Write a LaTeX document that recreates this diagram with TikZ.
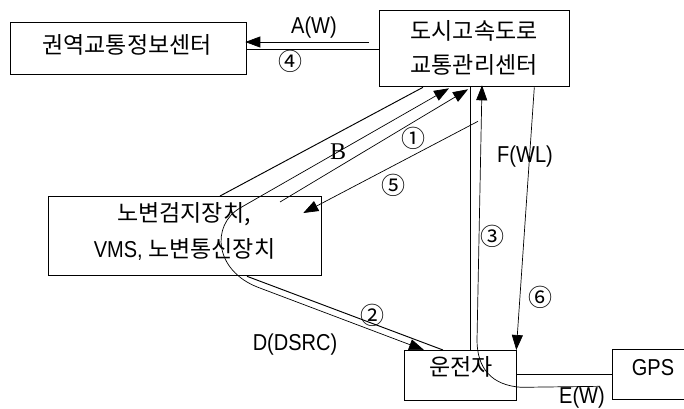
\documentclass[tikz,border=0pt]{standalone}
\usepackage{fontspec}
\setmainfont[FakeStretch=0.87]{Liberation Sans}
\newfontfamily\kr{Noto Sans CJK KR}
\newfontfamily\bser{Liberation Serif}
\usetikzlibrary{arrows.meta,calc}
\begin{document}
\begin{tikzpicture}[x=1pt,y=-1pt,
 tri/.tip={Triangle[length=15pt,width=11pt]},
 box/.style={draw,line width=1.3pt,inner sep=0,anchor=north west},
 kt/.style={font=\kr\fontsize{23}{26}\selectfont, inner sep=0},
 lt/.style={font=\fontsize{23}{26}\selectfont, inner sep=0},
 num/.style={font=\kr\fontsize{24}{26}\selectfont, inner sep=0},
 link/.style={line width=0.95pt},
 flow/.style={line width=0.7pt,-tri},
 flow2/.style={line width=0.7pt,tri-tri},
]
\useasboundingbox[fill=white] (0,0) rectangle (684,408);
% boxes
\node[box,minimum width=236pt,minimum height=52pt] (kw) at (10,22) {};
\node[box,minimum width=190pt,minimum height=76pt] (ds) at (379,10) {};
\node[box,minimum width=273pt,minimum height=79pt] (nb) at (48,196) {};
\node[box,minimum width=112pt,minimum height=50pt] (dr) at (404,350) {};
\node[box,minimum width=90pt,minimum height=50pt] (gps) at (612,349) {};
% box texts
\node[kt] (kwt) at (127,45) {권역교통정보센터};
\node[kt] (ds1) at (474,31) {도시고속도로};
\node[kt] (ds2) at (474,65) {교통관리센터};
\node[kt] (nb1) at (184,214) {노변검지장치,};
\node[lt] (nb2) at (184.5,249) {VMS, {\kr\fontsize{23}{26}\selectfont 노변통신장치}};
\node[kt] (drt) at (461,367) {운전자};
\node[lt] (gpst) at (653,368) {GPS};
% labels
\node[lt] (la) at (314,28) {A(W)};
\node[num] (n4) at (290,61) {④};
\node[font=\bser\fontsize{24}{26}\selectfont, inner sep=0] (lb) at (338,152) {B};
\node[num] (n1) at (413,138) {①};
\node[num] (n5) at (393,185) {⑤};
\node[num] (n3) at (492,236) {③};
\node[lt] (lf) at (525,157) {F(WL)};
\node[num] (n6) at (540,297) {⑥};
\node[num] (n2) at (372,315) {②};
\node[lt] (ld) at (295,345) {D(DSRC)};
\node[lt] (le) at (582,398) {E(W)};
% connectors
\draw[flow] ($(ds.north west)+(-10,32)$) -- ($(kw.north east)+(-2,20)$);
\draw[link] ($(kw.north east)+(0,27)$) -- ($(ds.north west)+(0,39)$);
\draw[link] ($(nb.north west)+(172,0)$) -- ($(ds.south west)+(44,0)$);
\draw[flow2] ($(ds.south west)+(70,1)$) -- ($(nb.north west)+(192,12)$)
   .. controls +(-29,17) and +(-44,-17) .. ($(nb.south west)+(210,11)$)
   -- ($(dr.north west)+(20,0)$);
\draw[flow] ($(nb.north west)+(232,6)$) -- ($(ds.south west)+(89,2)$);
\draw[flow] ($(ds.south west)+(99,34)$) -- ($(nb.north east)+(-19,17)$);
\draw[link] ($(ds.south west)+(91,0)$) -- ($(dr.north west)+(66,0)$);
\draw[flow] ($(gps.south west)+(-12,-14)$) -- ($(dr.south east)+(4,-14)$)
   .. controls +(-30,-2) and +(0,28) .. ($(dr.north west)+(73,-10)$)
   -- ($(ds.south west)+(103,-2)$);
\draw[flow] ($(ds.south east)+(-36,0)$) -- ($(dr.north east)+(-1,0)$);
\draw[link] ($(nb.south west)+(199,0)$) -- ($(dr.north west)+(39,0)$);
\draw[link] ($(dr.north east)+(0,24)$) -- ($(gps.north west)+(0,25)$);
\end{tikzpicture}
\end{document}
